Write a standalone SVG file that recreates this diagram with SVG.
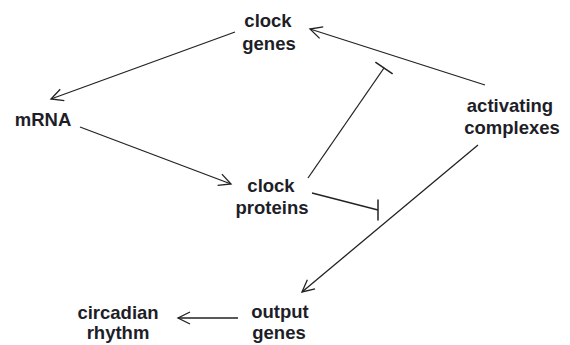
<svg xmlns="http://www.w3.org/2000/svg" width="570" height="345" viewBox="0 0 570 345">
  <style>
    .lbl { font-family: "Liberation Sans", Arial, sans-serif; font-weight: bold; font-size: 18.5px; fill: #1e1e28; text-anchor: middle; }
    .edge { fill: none; stroke: #222; stroke-width: 1.3; }
  </style>
  <defs>
    <marker id="arr" markerUnits="userSpaceOnUse" markerWidth="16" markerHeight="16" refX="14" refY="8" orient="auto">
      <path d="M2,2 L14,8 L2,14" fill="none" stroke="#222" stroke-width="1.3"/>
    </marker>
    <marker id="tee" markerUnits="userSpaceOnUse" markerWidth="4" markerHeight="24" refX="2" refY="12" orient="auto">
      <path d="M2,1.5 L2,22.5" fill="none" stroke="#222" stroke-width="1.5"/>
    </marker>
    <marker id="teeV" markerUnits="userSpaceOnUse" markerWidth="4" markerHeight="24" refX="2" refY="12" orient="0">
      <path d="M2,1.5 L2,22.5" fill="none" stroke="#222" stroke-width="1.5"/>
    </marker>
  </defs>
  <rect width="570" height="345" fill="#ffffff"/>

  <g id="connectors">
    <line class="edge" x1="235" y1="32" x2="51" y2="99" marker-end="url(#arr)"/>
    <line class="edge" x1="80" y1="127" x2="231" y2="184" marker-end="url(#arr)"/>
    <line class="edge" x1="485" y1="85" x2="310" y2="29" marker-end="url(#arr)"/>
    <line class="edge" x1="308" y1="178" x2="384" y2="68" marker-end="url(#tee)"/>
    <line class="edge" x1="312" y1="193" x2="378" y2="210" marker-end="url(#teeV)"/>
    <line class="edge" x1="478" y1="145" x2="302" y2="292" marker-end="url(#arr)"/>
    <line class="edge" x1="238" y1="318" x2="178" y2="318" marker-end="url(#arr)"/>
  </g>

  <g id="clock-genes">
    <text class="lbl" x="268" y="27">clock</text>
    <text class="lbl" x="269" y="50">genes</text>
  </g>
  <g id="mrna">
    <text class="lbl" x="43" y="126">mRNA</text>
  </g>
  <g id="clock-proteins">
    <text class="lbl" x="271" y="192">clock</text>
    <text class="lbl" x="272" y="214">proteins</text>
  </g>
  <g id="activating-complexes">
    <text class="lbl" x="510" y="112">activating</text>
    <text class="lbl" x="512" y="134">complexes</text>
  </g>
  <g id="output-genes">
    <text class="lbl" x="280" y="318">output</text>
    <text class="lbl" x="279" y="339">genes</text>
  </g>
  <g id="circadian-rhythm">
    <text class="lbl" x="118" y="319">circadian</text>
    <text class="lbl" x="118" y="339">rhythm</text>
  </g>
</svg>
